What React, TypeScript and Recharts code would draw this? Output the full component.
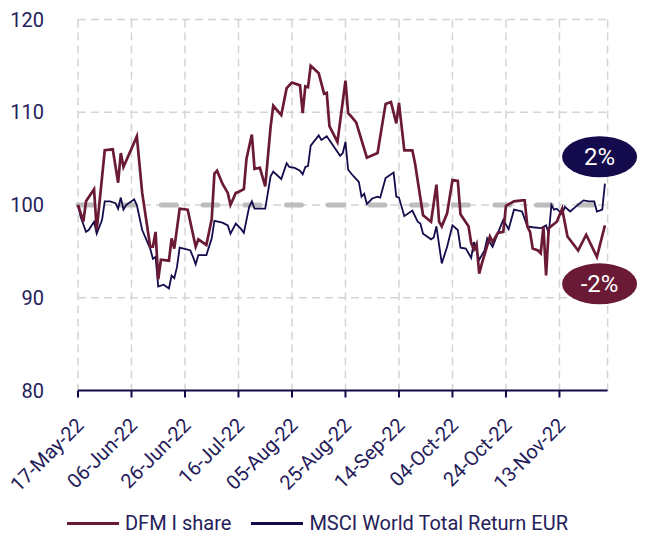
import {
  CartesianGrid,
  Legend,
  Line,
  LineChart,
  ReferenceDot,
  ReferenceLine,
  XAxis,
  YAxis,
} from "recharts";

// days counted from 17-May-22
const dfmDays = [
  0, 2, 3, 6, 7, 10, 13, 15, 16, 17, 22, 24, 27, 28, 29, 30, 31, 34, 35, 36, 38, 41, 44, 45, 48,
  50, 51, 52, 54, 56, 57, 59, 60, 62, 63, 65, 66, 68, 70, 72, 73, 76, 78, 80, 83, 84, 85, 86, 87,
  90, 92, 93, 94, 97, 100, 101, 102, 104, 108, 112, 115, 117, 119, 120, 122, 125, 126, 129, 132,
  134, 135, 136, 138, 140, 142, 143, 146, 147, 148, 149, 150, 151, 154, 155, 157, 159, 160, 163,
  166, 167, 168, 169, 170, 172, 173, 174, 175, 176, 179, 181, 183, 187, 190, 194, 197,
];
const dfmValues = [
  100, 98.2, 100.4, 101.7, 97.3, 105.9, 106.0, 102.4, 105.6, 104.1, 107.4, 101.3, 95.5, 95.5, 97.1,
  92.0, 94.1, 94.0, 96.4, 95.3, 99.6, 99.5, 95.5, 96.3, 95.7, 98.5, 103.4, 103.7, 102.3, 101.3,
  100.0, 101.3, 101.4, 101.7, 105.0, 107.6, 103.9, 104.0, 102.0, 108.4, 110.7, 109.7, 112.6, 113.2,
  112.9, 109.9, 112.8, 112.7, 115.0, 114.2, 112.0, 112.1, 108.5, 106.8, 113.4, 109.9, 109.6, 108.9,
  105.1, 105.6, 110.9, 111.1, 108.8, 111.0, 105.9, 105.9, 104.5, 98.9, 98.2, 102.2, 98.2, 97.7,
  99.1, 102.7, 102.6, 99.0, 97.7, 95.9, 95.2, 95.8, 92.6, 93.7, 96.6, 96.0, 97.0, 97.1, 99.9, 100.4,
  100.5, 100.5, 97.7, 97.1, 95.3, 95.1, 94.8, 97.7, 92.4, 97.5, 98.2, 99.6, 96.6, 95.1, 96.8, 94.4,
  97.8,
];

const msciDays = [
  0, 1, 3, 4, 6, 7, 9, 10, 12, 14, 15, 16, 17, 18, 20, 21, 22, 24, 27, 28, 29, 30, 32, 34, 35, 36,
  37, 38, 41, 42, 43, 44, 45, 48, 50, 51, 54, 56, 57, 59, 61, 62, 64, 65, 66, 70, 72, 73, 76, 78,
  79, 81, 83, 84, 85, 86, 87, 90, 91, 93, 98, 99, 100, 101, 103, 105, 106, 107, 108, 110, 112, 113,
  115, 118, 119, 120, 122, 125, 127, 128, 129, 132, 133, 134, 136, 138, 140, 142, 143, 145, 147,
  148, 150, 152, 153, 155, 157, 159, 161, 163, 166, 168, 170, 173, 175, 176, 177, 178, 179, 181,
  182, 184, 186, 189, 191, 193, 194, 196, 197,
];
const msciValues = [
  100, 98.7, 97.1, 97.3, 98.2, 96.9, 98.4, 100.4, 100.4, 100.2, 99.6, 100.8, 99.5, 100.0, 100.4,
  100.6, 100.0, 97.3, 95.3, 94.2, 94.4, 91.2, 91.4, 91.0, 92.4, 92.1, 93.3, 95.4, 95.2, 95.1, 94.4,
  93.6, 94.6, 94.6, 96.4, 98.3, 98.1, 97.8, 96.9, 98.0, 97.4, 97.0, 99.8, 100.4, 99.6, 99.6, 103.1,
  103.6, 102.8, 104.5, 104.1, 104.0, 103.7, 103.3, 104.1, 104.2, 106.4, 107.5, 107.0, 107.4, 105.3,
  105.6, 106.8, 103.8, 103.1, 102.5, 100.9, 101.2, 100.1, 100.7, 100.9, 100.8, 102.9, 103.5, 100.9,
  100.8, 98.8, 99.4, 98.2, 98.0, 96.9, 96.3, 96.5, 97.7, 93.7, 95.5, 97.8, 97.3, 95.4, 95.3, 94.3,
  96.0, 94.1, 95.1, 96.4, 95.5, 97.0, 98.4, 97.4, 99.5, 99.3, 97.7, 97.6, 97.5, 97.8, 96.9, 100.0,
  99.5, 99.6, 99.0, 99.8, 99.3, 99.8, 100.5, 100.4, 100.4, 99.3, 99.5, 102.3,
];

const tickDays = [0, 20, 40, 60, 80, 100, 120, 140, 160, 180];
const tickLabels = [
  "17-May-22",
  "06-Jun-22",
  "26-Jun-22",
  "16-Jul-22",
  "05-Aug-22",
  "25-Aug-22",
  "14-Sep-22",
  "04-Oct-22",
  "24-Oct-22",
  "13-Nov-22",
];
const yTicks = [80, 90, 100, 110, 120];
const BASELINE = 100;

const DFM_NAME = "DFM I share";
const MSCI_NAME = "MSCI World Total Return EUR";
const DFM_COLOR = "#6b1a36";
const MSCI_COLOR = "#140b4c";
const TEXT_COLOR = "#25205a";
const FONT = "Roboto, 'Noto Sans', sans-serif";
const FONT_SIZE = 20;

const dfmData = dfmDays.map((d, i) => ({ day: d, value: dfmValues[i] }));
const msciData = msciDays.map((d, i) => ({ day: d, value: msciValues[i] }));

const lastDay = dfmDays[dfmDays.length - 1];
const pctLabel = (vals: number[]) => `${Math.round(vals[vals.length - 1] - BASELINE)}%`;

function XTick({ x, y, payload }: any) {
  const idx = tickDays.indexOf(payload.value);
  return (
    <g transform={`translate(${x + 7},${y + 27})`}>
      <text
        x={0}
        y={0}
        textAnchor="end"
        transform="rotate(-45)"
        fill={TEXT_COLOR}
        fontSize={FONT_SIZE}
        fontFamily={FONT}
      >
        {tickLabels[idx]}
      </text>
    </g>
  );
}

function Bubble({ cx, cy, color, text }: any) {
  return (
    <g>
      <ellipse cx={cx} cy={cy} rx={37.5} ry={20.5} fill={color} />
      <text
        x={cx}
        y={cy}
        dy={8.5}
        textAnchor="middle"
        fill="#fff"
        fontSize={24}
        fontFamily={FONT}
      >
        {text}
      </text>
    </g>
  );
}

function LegendContent() {
  const item = (color: string, name: string, gap: number) => (
    <div style={{ display: "flex", alignItems: "center", marginRight: gap }}>
      <span
        style={{
          display: "inline-block",
          width: 52,
          borderTop: `3px solid ${color}`,
          marginRight: 6,
        }}
      />
      <span>{name}</span>
    </div>
  );
  return (
    <div
      style={{
        display: "flex",
        justifyContent: "center",
        alignItems: "center",
        height: 22,
        fontFamily: FONT,
        fontSize: FONT_SIZE,
        color: TEXT_COLOR,
        paddingRight: 24,
        whiteSpace: "nowrap",
      }}
    >
      {item(DFM_COLOR, DFM_NAME, 20)}
      {item(MSCI_COLOR, MSCI_NAME, 0)}
    </div>
  );
}

export default function App() {
  return (
    <div style={{ position: "absolute", left: 0, top: 0, background: "#fff" }}>
      <LineChart
        width={659}
        height={534}
        margin={{ top: 19.5, right: 51.4, left: 0, bottom: 0 }}
      >
        <CartesianGrid stroke="#d4d4d4" strokeWidth={1.5} strokeDasharray="8 5" />
        <XAxis
          dataKey="day"
          type="number"
          domain={[0, 198]}
          ticks={tickDays}
          tick={<XTick />}
          height={121.5}
          axisLine={{ stroke: MSCI_COLOR, strokeWidth: 2 }}
          tickLine={{ stroke: MSCI_COLOR, strokeWidth: 2 }}
          tickSize={7}
          interval={0}
        />
        <YAxis
          type="number"
          domain={[80, 120]}
          ticks={yTicks}
          width={78}
          axisLine={false}
          tickLine={false}
          tickMargin={28}
          tick={{ fill: TEXT_COLOR, fontSize: FONT_SIZE, fontFamily: FONT }}
        />
        <ReferenceLine
          y={BASELINE}
          stroke="#bdbdbd"
          strokeWidth={5}
          strokeDasharray="15 26.7"
          strokeLinecap="round"
        />
        <Line
          data={msciData}
          dataKey="value"
          name={MSCI_NAME}
          type="linear"
          stroke={MSCI_COLOR}
          strokeWidth={1.8}
          dot={false}
          isAnimationActive={false}
        />
        <Line
          data={dfmData}
          dataKey="value"
          name={DFM_NAME}
          type="linear"
          stroke={DFM_COLOR}
          strokeWidth={2.7}
          dot={false}
          isAnimationActive={false}
        />
        <ReferenceDot
          x={lastDay - 2}
          y={105.2}
          r={0}
          shape={(p: any) => <Bubble {...p} color={MSCI_COLOR} text={pctLabel(msciValues)} />}
        />
        <ReferenceDot
          x={lastDay - 2}
          y={91.5}
          r={0}
          shape={(p: any) => <Bubble {...p} color={DFM_COLOR} text={pctLabel(dfmValues)} />}
        />
        <Legend
          verticalAlign="bottom"
          content={<LegendContent />}
          wrapperStyle={{ left: 0, width: 659 }}
        />
      </LineChart>
    </div>
  );
}
